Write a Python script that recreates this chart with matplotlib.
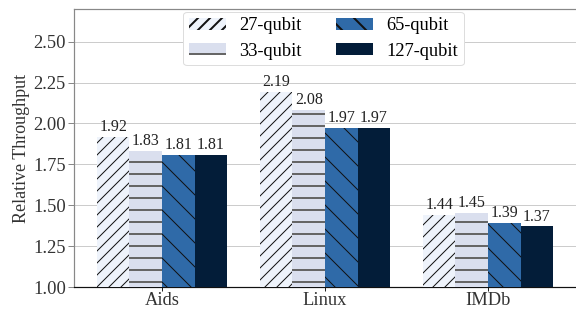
import numpy as np
import matplotlib.pyplot as plt
from matplotlib.patches import Patch

plt.rcParams['font.family'] = ['Liberation Serif', 'DejaVu Serif']

datasets = ["Aids", "Linux", "IMDb"]
series = ["27-qubit", "33-qubit", "65-qubit", "127-qubit"]
q27 = [1.92, 2.19, 1.44]
q33 = [1.83, 2.08, 1.45]
q65 = [1.81, 1.97, 1.39]
q127 = [1.81, 1.97, 1.37]
values = [q27, q33, q65, q127]

fills = ["#eef3fb", "#dadfee", "#2f6aa8", "#031d39"]
hatch_cols = ["#111111", "#666666", "#111111", "#031d39"]
hatches = ["////", "--", "\\\\", ""]
hatch_lw = [0.5, 1.0, 0.5, 0.5]

# rendered at 144 dpi so the hatch spacing matches the original
fig = plt.figure(figsize=(4, 309 / 144), dpi=144)
ax = fig.add_axes([74 / 576, 22 / 309, 1 - 74 / 576, 278 / 309])

x = np.arange(len(datasets))
w = 0.2
for i, (name, vals) in enumerate(zip(series, values)):
    bars = ax.bar(x + (i - 1.5) * w, vals, w, color=fills[i], edgecolor=hatch_cols[i],
                  linewidth=0, hatch=hatches[i], zorder=3)
    for b in bars:
        if hasattr(b, "set_hatch_linewidth"):
            b.set_hatch_linewidth(hatch_lw[i])
    for xi, v in zip(x + (i - 1.5) * w, vals):
        ax.text(xi, v + 0.012, f"{v:.2f}", ha="center", va="bottom", fontsize=8, color="#222222")

ax.set_ylim(1.0, 2.7)
ax.set_xlim(-0.54, 2.54)
ax.set_yticks([1.0, 1.25, 1.5, 1.75, 2.0, 2.25, 2.5])
ax.set_yticklabels(["1.00", "1.25", "1.50", "1.75", "2.00", "2.25", "2.50"])
ax.set_xticks(x)
ax.set_xticklabels(datasets)
ax.tick_params(axis="both", labelsize=9.25, colors="#333333", width=0.5)
ax.tick_params(axis="y", color="#888888", length=3, pad=1)
ax.tick_params(axis="x", color="#222222", length=2, pad=0.5)
ax.set_ylabel("Relative Throughput", fontsize=9, color="#333333", labelpad=1.5)
ax.yaxis.grid(True, color="#cccccc", linewidth=0.5, zorder=0)
ax.set_axisbelow(True)
for s in ["left", "top"]:
    ax.spines[s].set_color("#888888")
    ax.spines[s].set_linewidth(0.6)
ax.spines["right"].set_visible(False)
ax.spines["bottom"].set_color("#111111")
ax.spines["bottom"].set_linewidth(0.6)

handles = []
for i in range(4):
    p = Patch(facecolor=fills[i], edgecolor=hatch_cols[i], linewidth=0, hatch=hatches[i], label=series[i])
    if hasattr(p, "set_hatch_linewidth"):
        p.set_hatch_linewidth(hatch_lw[i])
    handles.append(p)
leg = ax.legend(handles=handles, ncol=2, loc="upper center", bbox_to_anchor=(0.497, 1.0),
                fontsize=9.25, frameon=True, edgecolor="#dddddd", framealpha=1,
                handlelength=2.0, handleheight=0.65, handletextpad=0.7, columnspacing=1.9,
                borderpad=0.3, labelspacing=0.45, borderaxespad=0.15)
leg.get_frame().set_linewidth(0.5)

fig.savefig("out.png", dpi=144)
